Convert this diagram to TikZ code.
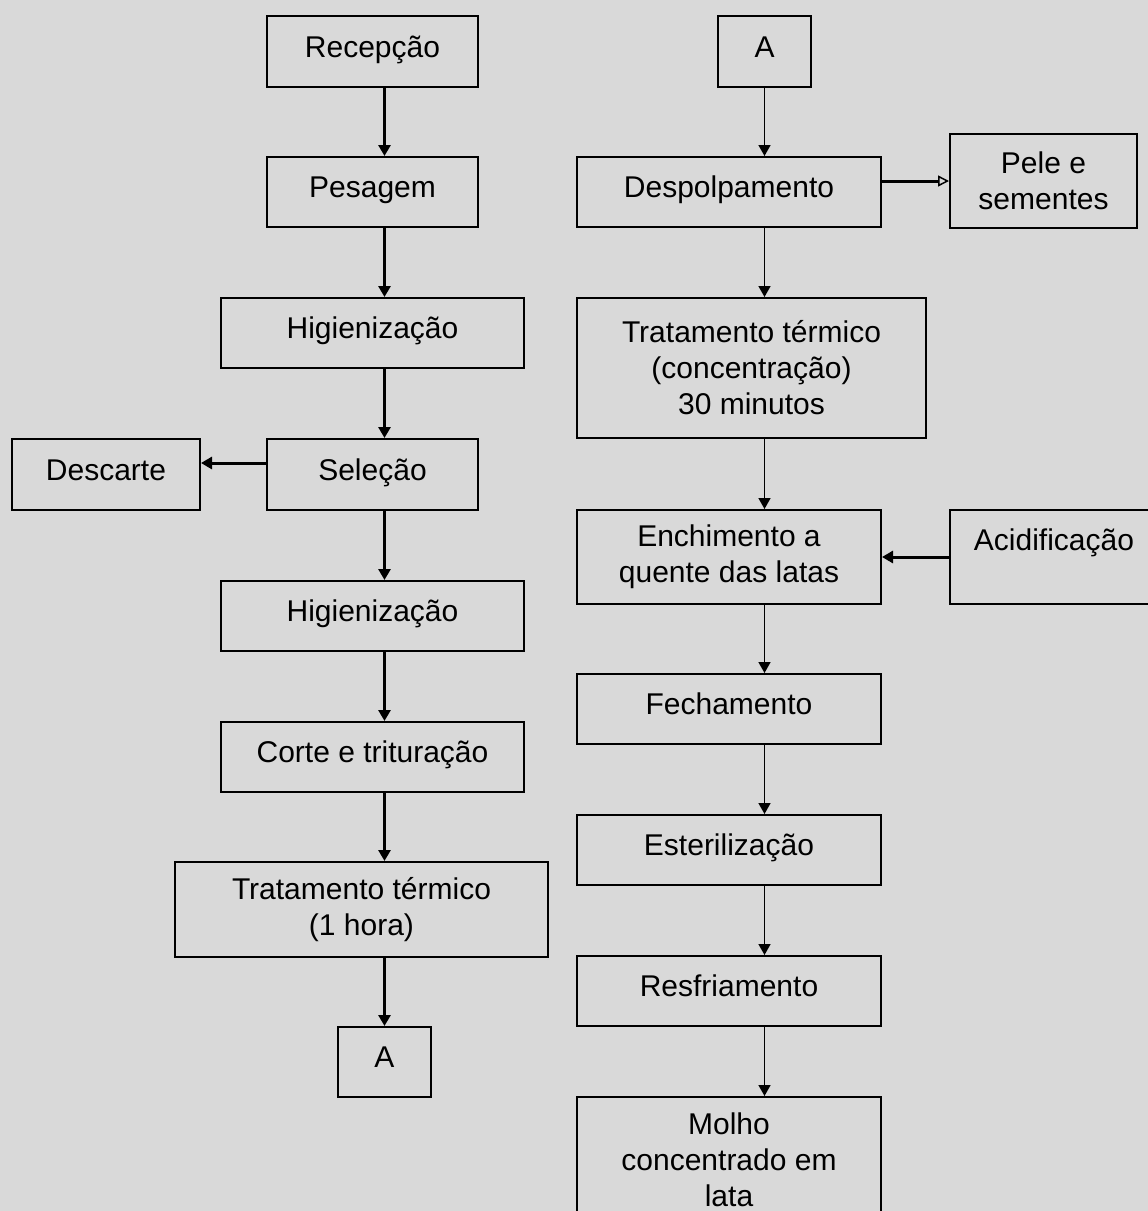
\documentclass[tikz,border=0pt]{standalone}
\usepackage{fontspec}
\setmainfont{Liberation Sans}
\usetikzlibrary{arrows.meta}
\definecolor{bg}{HTML}{D9D9D9}
\begin{document}
\begin{tikzpicture}[x=1pt,y=-1pt,
 box/.style={draw,line width=2pt,inner sep=0pt,align=center,font=\fontsize{30}{36}\selectfont},
 one/.style={text height=21pt,text depth=10pt},
 thk/.style={line width=3pt,-{Triangle[length=11pt,width=12pt]}},
 thn/.style={line width=1.5pt,-{Triangle[length=11pt,width=12pt]}},
]
\fill[bg] (0,0) rectangle (1148,1211);
\useasboundingbox (0,0) rectangle (1148,1211);
% left column
\node[box,one,minimum width=211pt,minimum height=71pt] (rec) at (372.5,51.5) {Recepção};
\node[box,one,minimum width=211pt,minimum height=70pt] (pes) at (372.5,192) {Pesagem};
\node[box,one,minimum width=303pt,minimum height=70pt] (hig1) at (372.5,333) {Higienização};
\node[box,one,minimum width=211pt,minimum height=71pt] (sel) at (372.5,474.5) {Seleção};
\node[box,one,minimum width=188pt,minimum height=71pt] (desc) at (106,474.5) {Descarte};
\node[box,one,minimum width=303pt,minimum height=70pt] (hig2) at (372.5,616) {Higienização};
\node[box,one,minimum width=303pt,minimum height=70pt] (corte) at (372.5,757) {Corte e trituração};
\node[box,minimum width=373pt,minimum height=95pt] (trat) at (361.5,909.5) {Tratamento térmico\\(1 hora)};
\node[box,one,minimum width=93pt,minimum height=70pt] (aL) at (384.5,1062) {A};
% right column
\node[box,one,minimum width=93pt,minimum height=71pt] (aR) at (764.5,51.5) {A};
\node[box,one,minimum width=304pt,minimum height=70pt] (desp) at (729,192) {Despolpamento};
\node[box,minimum width=187pt,minimum height=94pt] (pele) at (1043.5,181) {Pele e\\sementes};
\node[box,minimum width=349pt,minimum height=140pt] (tt2) at (751.5,368) {Tratamento térmico\\(concentração)\\30 minutos};
\node[box,minimum width=304pt,minimum height=94pt] (ench) at (729,557) {Enchimento a\\quente das latas};
\node[box,text height=15pt,text depth=28pt,minimum width=208pt,minimum height=94pt] (acid) at (1054,557) {Acidificação};
\node[box,one,minimum width=304pt,minimum height=70pt] (fech) at (729,709) {Fechamento};
\node[box,one,minimum width=304pt,minimum height=70pt] (est) at (729,850) {Esterilização};
\node[box,one,minimum width=304pt,minimum height=70pt] (resf) at (729,991) {Resfriamento};
\node[box,minimum width=304pt,minimum height=126pt] (molho) at (729,1160) {Molho\\concentrado em\\lata};
% left arrows
\draw[thk] (rec.south -| aL) -- (pes.north -| aL);
\draw[thk] (pes.south -| aL) -- (hig1.north -| aL);
\draw[thk] (hig1.south -| aL) -- (sel.north -| aL);
\draw[thk] ([yshift=11.5pt]sel.west) -- ([yshift=11.5pt]desc.east);
\draw[thk] (sel.south -| aL) -- (hig2.north -| aL);
\draw[thk] (hig2.south -| aL) -- (corte.north -| aL);
\draw[thk] (corte.south -| aL) -- (trat.north -| aL);
\draw[thk] (trat.south -| aL) -- (aL.north);
% right arrows
\draw[thn] (aR.south) -- (desp.north -| aR);
\draw[line width=3pt,-{Triangle[open,line width=1.5pt,length=11pt,width=11pt]}] (desp.east |- pele.west) -- (pele.west);
\draw[thn] (desp.south -| aR) -- (tt2.north -| aR);
\draw[thn] (tt2.south -| aR) -- (ench.north -| aR);
\draw[thk] (acid.west) -- (ench.east);
\draw[thn] (ench.south -| aR) -- (fech.north -| aR);
\draw[thn] (fech.south -| aR) -- (est.north -| aR);
\draw[thn] (est.south -| aR) -- (resf.north -| aR);
\draw[thn] (resf.south -| aR) -- (molho.north -| aR);
\end{tikzpicture}
\end{document}
